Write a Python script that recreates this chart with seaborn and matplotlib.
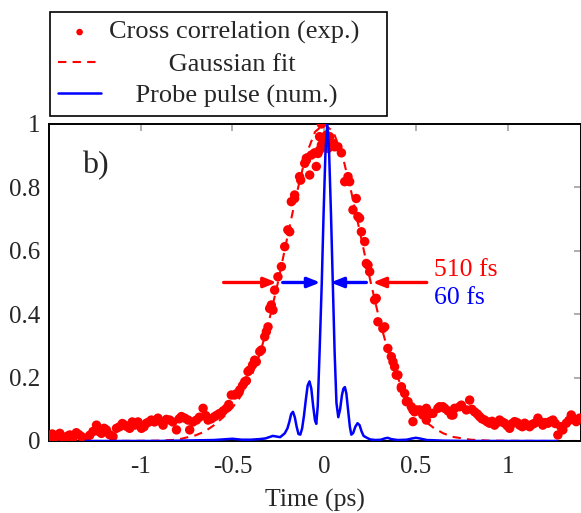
import numpy as np
import pandas as pd
import seaborn as sns
import matplotlib.pyplot as plt

xc_time = [
    -1.496, -1.482, -1.469, -1.455, -1.441, -1.428, -1.414, -1.400, -1.387, -1.369,
    -1.351, -1.337, -1.323, -1.310, -1.296, -1.278, -1.260, -1.241, -1.228, -1.214,
    -1.200, -1.187, -1.170, -1.151, -1.132, -1.115, -1.100, -1.087, -1.073, -1.060,
    -1.046, -1.033, -1.015, -0.996, -0.982, -0.969, -0.955, -0.942, -0.925, -0.906,
    -0.892, -0.878, -0.860, -0.842, -0.825, -0.805, -0.790, -0.778, -0.760, -0.742,
    -0.733, -0.715, -0.696, -0.680, -0.660, -0.645, -0.633, -0.615, -0.597, -0.583,
    -0.569, -0.550, -0.533, -0.520, -0.506, -0.488, -0.475, -0.460, -0.445, -0.433,
    -0.424, -0.415, -0.406, -0.390, -0.379, -0.370, -0.351, -0.342, -0.324, -0.315,
    -0.306, -0.297, -0.288, -0.279, -0.270, -0.252, -0.233, -0.215, -0.198, -0.188,
    -0.179, -0.161, -0.161, -0.134, -0.128, -0.106, -0.097, -0.097, -0.079, -0.070,
    -0.052, -0.043, -0.034, -0.025, -0.025, -0.015, -0.015, 0.003, 0.012, 0.021,
    0.030, 0.048, 0.057, 0.075, 0.094, 0.112, 0.130, 0.139, 0.157, 0.175,
    0.184, 0.193, 0.203, 0.221, 0.230, 0.239, 0.248, 0.275, 0.284, 0.293,
    0.320, 0.330, 0.347, 0.366, 0.375, 0.384, 0.393, 0.402, 0.421, 0.421,
    0.439, 0.448, 0.457, 0.475, 0.484, 0.484, 0.493, 0.502, 0.520, 0.538,
    0.557, 0.557, 0.584, 0.593, 0.620, 0.629, 0.647, 0.657, 0.675, 0.693,
    0.702, 0.711, 0.738, 0.748, 0.775, 0.793, 0.805, 0.820, 0.835, 0.847,
    0.860, 0.875, 0.890, 0.902, 0.915, 0.929, 0.942, 0.956, 0.970, 0.984,
    0.998, 1.011, 1.025, 1.038, 1.052, 1.065, 1.080, 1.093, 1.107, 1.120,
    1.133, 1.147, 1.165, 1.180, 1.192, 1.206, 1.220, 1.233, 1.247, 1.260,
    1.274, 1.290, 1.301, 1.320, 1.334, 1.347, 1.360, 1.374, 1.392,
]
xc_signal = [
    0.014, 0.022, 0.009, 0.018, 0.024, 0.012, 0.003, 0.015, 0.019, 0.010,
    0.026, 0.020, 0.014, 0.006, 0.008, 0.018, 0.030, 0.050, 0.030, 0.024,
    0.040, 0.035, 0.020, 0.014, 0.040, 0.045, 0.055, 0.050, 0.045, 0.040,
    0.060, 0.050, 0.060, 0.040, 0.045, 0.056, 0.060, 0.066, 0.060, 0.072,
    0.062, 0.050, 0.068, 0.066, 0.060, 0.035, 0.070, 0.077, 0.072, 0.066,
    0.035, 0.060, 0.066, 0.075, 0.103, 0.080, 0.066, 0.070, 0.077, 0.082,
    0.087, 0.095, 0.103, 0.115, 0.145, 0.145, 0.150, 0.161, 0.175, 0.187,
    0.190, 0.219, 0.224, 0.240, 0.255, 0.250, 0.282, 0.287, 0.329, 0.345,
    0.360, 0.418, 0.429, 0.413, 0.476, 0.518, 0.550, 0.613, 0.666, 0.660,
    0.755, 0.776, 0.765, 0.834, 0.823, 0.876, 0.892, 0.886, 0.839, 0.902,
    0.909, 0.866, 0.907, 0.960, 0.918, 1.000, 0.934, 0.939, 0.965, 0.923,
    0.960, 0.939, 0.928, 0.928, 0.909, 0.818, 0.834, 0.818, 0.729, 0.765,
    0.708, 0.703, 0.660, 0.629, 0.560, 0.555, 0.534, 0.445, 0.450, 0.376,
    0.355, 0.360, 0.292, 0.266, 0.250, 0.234, 0.208, 0.208, 0.171, 0.166,
    0.150, 0.124, 0.124, 0.108, 0.098, 0.061, 0.092, 0.098, 0.098, 0.082,
    0.066, 0.103, 0.087, 0.087, 0.103, 0.108, 0.108, 0.103, 0.095, 0.082,
    0.082, 0.103, 0.108, 0.113, 0.098, 0.129, 0.100, 0.092, 0.085, 0.077,
    0.070, 0.066, 0.060, 0.056, 0.062, 0.050, 0.058, 0.066, 0.060, 0.056,
    0.048, 0.040, 0.055, 0.061, 0.058, 0.050, 0.045, 0.056, 0.050, 0.045,
    0.052, 0.056, 0.072, 0.060, 0.050, 0.058, 0.056, 0.062, 0.066, 0.055,
    0.019, 0.045, 0.035, 0.056, 0.065, 0.082, 0.070, 0.061, 0.072,
]

# gaussian fit curve
fit_time = [
    -1.5, -1.2, -1.0, -0.9, -0.8, -0.7, -0.65, -0.6, -0.55, -0.5, -0.45, -0.4,
    -0.35, -0.3, -0.25, -0.2, -0.15, -0.1, -0.05, 0.0, 0.05, 0.1, 0.15, 0.2,
    0.25, 0.3, 0.35, 0.4, 0.45, 0.5, 0.55, 0.6, 0.65, 0.7, 0.8, 0.9, 1.0, 1.2, 1.4,
]
fit_signal = [
    0.0, 0.0, 0.0005, 0.001, 0.004, 0.018, 0.03, 0.05, 0.075, 0.105, 0.145, 0.2,
    0.275, 0.38, 0.505, 0.645, 0.78, 0.9, 0.975, 1.0, 0.975, 0.9, 0.78, 0.645,
    0.51, 0.385, 0.28, 0.2, 0.14, 0.095, 0.062, 0.04, 0.024, 0.013, 0.004, 0.001, 0.0005, 0.0, 0.0,
]

# simulated probe pulse intensity
probe_time = [
    -1.30, -0.90, -0.70, -0.60, -0.55, -0.50, -0.45, -0.40, -0.35, -0.32,
    -0.30, -0.28, -0.26, -0.24, -0.215, -0.20, -0.19, -0.18, -0.17, -0.16,
    -0.15, -0.14, -0.13, -0.12, -0.11, -0.10, -0.09, -0.08, -0.07, -0.06,
    -0.05, -0.043, -0.035, -0.025, -0.013, -0.003, 0.007, 0.017, 0.027, 0.037,
    0.047, 0.057, 0.067, 0.077, 0.087, 0.097, 0.105, 0.113, 0.121, 0.13,
    0.14, 0.148, 0.158, 0.17, 0.182, 0.193, 0.204, 0.215, 0.233, 0.25,
    0.28, 0.31, 0.33, 0.346, 0.365, 0.40, 0.45, 0.48, 0.50, 0.52,
    0.56, 0.65, 0.80, 1.00, 1.27,
]
probe_signal = [
    0.0, 0.0, 0.002, 0.003, 0.005, 0.007, 0.004, 0.004, 0.006, 0.008,
    0.012, 0.016, 0.014, 0.012, 0.024, 0.04, 0.06, 0.085, 0.092, 0.075,
    0.045, 0.022, 0.02, 0.04, 0.08, 0.13, 0.175, 0.188, 0.165, 0.11,
    0.065, 0.054, 0.11, 0.28, 0.5, 0.72, 0.91, 1.0, 0.91, 0.72,
    0.5, 0.28, 0.12, 0.075, 0.1, 0.145, 0.165, 0.17, 0.15, 0.1,
    0.045, 0.02, 0.025, 0.045, 0.056, 0.05, 0.03, 0.016, 0.01, 0.005,
    0.003, 0.004, 0.008, 0.01, 0.006, 0.003, 0.004, 0.008, 0.01, 0.008,
    0.003, 0.001, 0.0, 0.0, 0.0,
]

# FWHM arrows: (tail, tip) in ps at half maximum
xc_arrows = [(-0.548, -0.259), (0.559, 0.264)]
probe_arrows = [(-0.226, -0.021), (0.230, 0.035)]
half_max = 0.5

x_ticks = [-1, -0.5, 0, 0.5, 1]
x_tick_labels = ["-1", "-0.5", "0", "0.5", "1"]
y_ticks = [0, 0.2, 0.4, 0.6, 0.8, 1]
y_tick_labels = ["0", "0.2", "0.4", "0.6", "0.8", "1"]

legend_labels = ["Cross correlation (exp.)", "Gaussian fit", "Probe pulse (num.)"]

sns.set_style("white")
plt.rcParams["font.family"] = ["Liberation Serif", "DejaVu Serif"]
plt.rcParams["axes.unicode_minus"] = False

fig = plt.figure(figsize=(5.81, 5.13), dpi=100)
ax = fig.add_axes([0.0843, 0.1404, 0.9157, 0.6179])

red = "#ff0000"
blue = "#0000ff"

xc = pd.DataFrame({"t": xc_time, "s": xc_signal})
fit = pd.DataFrame({"t": fit_time, "s": fit_signal})
probe = pd.DataFrame({"t": probe_time, "s": probe_signal})

sns.scatterplot(data=xc, x="t", y="s", ax=ax, color=red, s=46, edgecolor="none",
                label=legend_labels[0], zorder=3)
sns.lineplot(data=fit, x="t", y="s", ax=ax, color=red, lw=1.5, estimator=None,
             dashes=False, label=legend_labels[1], zorder=2)
ax.lines[-1].set_dashes((4, 3))
sns.lineplot(data=probe, x="t", y="s", ax=ax, color=blue, lw=1.8, estimator=None,
             label=legend_labels[2], zorder=4)

arrow_style = "-|>,head_length=0.75,head_width=0.3"
for tail, tip in xc_arrows:
    ax.annotate("", xy=(tip, half_max), xytext=(tail, half_max),
                arrowprops=dict(arrowstyle=arrow_style, color=red, lw=2.4,
                                shrinkA=0, shrinkB=0), zorder=5)
for tail, tip in probe_arrows:
    ax.annotate("", xy=(tip, half_max), xytext=(tail, half_max),
                arrowprops=dict(arrowstyle=arrow_style, color=blue, lw=2.4,
                                shrinkA=0, shrinkB=0), zorder=5)

ax.text(0.60, 0.54, "510 fs", color=red, fontsize=18.5, va="center", ha="left")
ax.text(0.60, 0.45, "60 fs", color=blue, fontsize=18.5, va="center", ha="left")
ax.text(-1.32, 0.87, "b)", fontsize=23, va="center", ha="left")

ax.set_xlim(-1.5, 1.4)
ax.set_ylim(0, 1)
ax.set_xticks(x_ticks)
ax.set_xticklabels(x_tick_labels)
ax.set_yticks(y_ticks)
ax.set_yticklabels(y_tick_labels)
ax.tick_params(axis="both", direction="in", length=5, width=1.1, color="#999999",
               labelsize=18, top=True, right=True)
ax.tick_params(axis="x", pad=11)
ax.tick_params(axis="y", pad=6)
for sp in ax.spines.values():
    sp.set_color("black")
    sp.set_linewidth(1.4)
ax.set_xlabel("Time (ps)", fontsize=18.5, labelpad=8)
ax.set_ylabel("")

# legend with centred entry texts (pgfplots style)
leg_fs = 19
handles, _ = ax.get_legend_handles_labels()
leg = ax.legend(handles, legend_labels, fontsize=leg_fs)
fig.canvas.draw()
r = fig.canvas.get_renderer()
widths = [t.get_window_extent(r).width for t in leg.get_texts()]
sp_t = ax.text(0, 0, "a a", fontsize=leg_fs)
sp_w = sp_t.get_window_extent(r).width
sp_t.set_text("aa")
sp_w -= sp_t.get_window_extent(r).width
sp_t.remove()
padded = [" " * int(round((max(widths) - w) / 2 / sp_w)) + lab + "   "
          for w, lab in zip(widths, legend_labels)]
leg.remove()
leg = ax.legend(handles, padded, fontsize=leg_fs, loc="upper left", bbox_to_anchor=(0.002, 1.353),
                borderaxespad=0, frameon=True, fancybox=False, edgecolor="black",
                framealpha=1, handlelength=1.6, handletextpad=0.3, labelspacing=0.3,
                borderpad=0.32, markerscale=0.7)
leg.get_frame().set_linewidth(1.2)

fig.savefig("out.png", dpi=100)
